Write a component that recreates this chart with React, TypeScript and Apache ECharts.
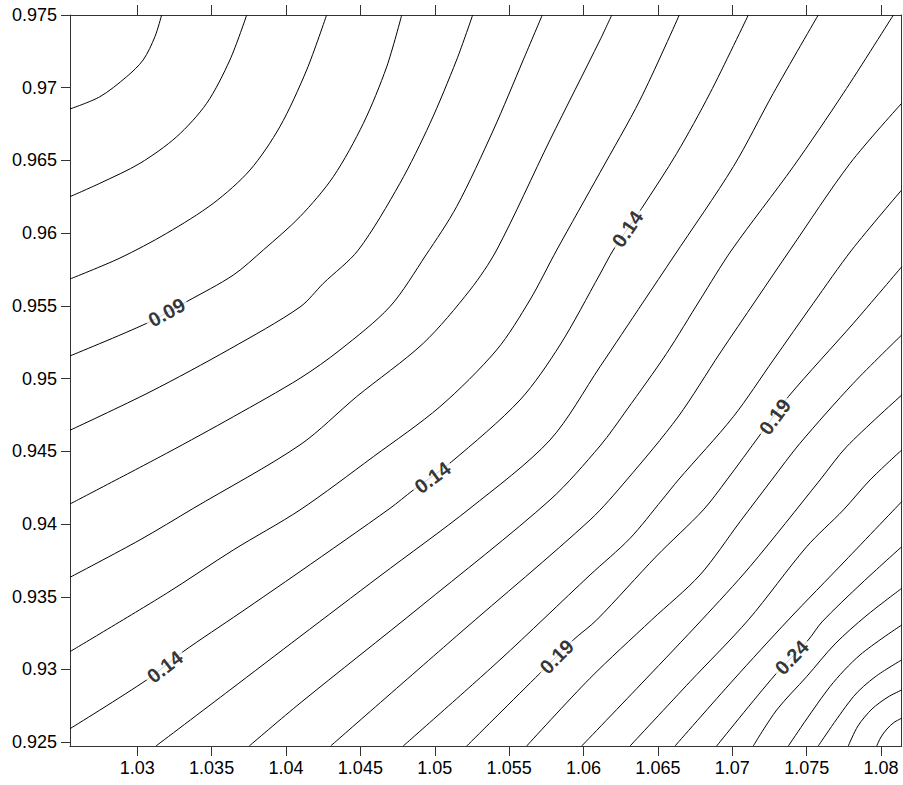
import React, { useEffect, useRef } from "react";
import * as echarts from "echarts";

// axis extents (data units)
const X_MIN = 1.02548;
const X_MAX = 1.08139;
const Y_MIN = 0.92474;
const Y_MAX = 0.975;

const xTicks = [1.03, 1.035, 1.04, 1.045, 1.05, 1.055, 1.06, 1.065, 1.07, 1.075, 1.08];
const yTicks = [0.925, 0.93, 0.935, 0.94, 0.945, 0.95, 0.955, 0.96, 0.965, 0.97, 0.975];

const levels = [0.06, 0.07, 0.08, 0.09, 0.1, 0.11, 0.12, 0.13, 0.14, 0.15, 0.16, 0.17, 0.18, 0.19, 0.2, 0.21, 0.22, 0.23, 0.24, 0.25, 0.26, 0.27, 0.28, 0.29];

const c06 = [[1.02548, 0.96854], [1.02749, 0.96938], [1.02929, 0.97076], [1.0304, 0.97191], [1.03119, 0.97351], [1.03164, 0.975]];
const c07 = [[1.02548, 0.96251], [1.02749, 0.96343], [1.03018, 0.9648], [1.03265, 0.96663], [1.03467, 0.96893], [1.03623, 0.97191], [1.03736, 0.975]];
const c08 = [[1.02548, 0.95685], [1.02884, 0.95829], [1.03198, 0.95999], [1.03511, 0.96205], [1.03758, 0.96434], [1.03959, 0.96732], [1.04139, 0.97122], [1.04273, 0.975]];
const c09 = [[1.02548, 0.95156], [1.03063, 0.9538], [1.03332, 0.95529], [1.03646, 0.95712], [1.03847, 0.95884], [1.04094, 0.96113], [1.04318, 0.96388], [1.0452, 0.96755], [1.04677, 0.97144], [1.04778, 0.975]];
const c10 = [[1.02548, 0.94645], [1.03085, 0.94908], [1.03623, 0.95204], [1.04094, 0.95492], [1.04251, 0.95655], [1.04486, 0.95884], [1.04766, 0.96343], [1.04968, 0.96755], [1.05147, 0.97191], [1.05255, 0.975]];
const c11 = [[1.02548, 0.94138], [1.03198, 0.94487], [1.03646, 0.94738], [1.04094, 0.95002], [1.04363, 0.95197], [1.04699, 0.95495], [1.04941, 0.9585], [1.05147, 0.96182], [1.05394, 0.96709], [1.05595, 0.97191], [1.05723, 0.975]];
const c12 = [[1.02548, 0.93634], [1.03018, 0.93891], [1.03377, 0.94108], [1.04094, 0.94544], [1.04475, 0.94876], [1.04923, 0.95243], [1.05237, 0.95609], [1.05416, 0.95884], [1.05775, 0.96641], [1.06111, 0.97328], [1.0619, 0.975]];
const c13 = [[1.02548, 0.93123], [1.03198, 0.93524], [1.03646, 0.93822], [1.04094, 0.94097], [1.04587, 0.94463], [1.05035, 0.94807], [1.05416, 0.95197], [1.0564, 0.95541], [1.0582, 0.95884], [1.06111, 0.96417], [1.0638, 0.96916], [1.06644, 0.975]];
const c14 = [[1.02548, 0.92593], [1.03063, 0.92928], [1.03309, 0.93123], [1.03691, 0.93389], [1.04094, 0.93673], [1.04699, 0.94108], [1.04856, 0.94234], [1.05114, 0.94429], [1.05573, 0.94853], [1.05842, 0.95231], [1.06111, 0.95719], [1.062, 0.95884], [1.06391, 0.96171], [1.06627, 0.96549], [1.0685, 0.96962], [1.07108, 0.975]];
const c15 = [[1.03126, 0.92474], [1.03623, 0.92859], [1.04094, 0.93226], [1.04632, 0.93643], [1.05237, 0.94108], [1.05775, 0.94578], [1.06111, 0.95082], [1.06402, 0.95527], [1.06604, 0.95836], [1.07007, 0.96457], [1.07276, 0.96962], [1.07578, 0.975]];
const c16 = [[1.03753, 0.92474], [1.04094, 0.92768], [1.04901, 0.9343], [1.05775, 0.94166], [1.06111, 0.94537], [1.0629, 0.94784], [1.06559, 0.95174], [1.06783, 0.95541], [1.06996, 0.95884], [1.0741, 0.96457], [1.07747, 0.96962], [1.08083, 0.975]];
const c17 = [[1.043, 0.92474], [1.0517, 0.93251], [1.06044, 0.94028], [1.0629, 0.94303], [1.06635, 0.94736], [1.06918, 0.95176], [1.0716, 0.95541], [1.07388, 0.95884], [1.07792, 0.9648], [1.08139, 0.96893]];
const c18 = [[1.04788, 0.92474], [1.05438, 0.93066], [1.06044, 0.9365], [1.06313, 0.93902], [1.06528, 0.94166], [1.06637, 0.94303], [1.07007, 0.94738], [1.07276, 0.95128], [1.07545, 0.95518], [1.07803, 0.95884], [1.08139, 0.96297]];
const c19 = [[1.05215, 0.92474], [1.05707, 0.92974], [1.05931, 0.93203], [1.06089, 0.93341], [1.06492, 0.93781], [1.06805, 0.94097], [1.06963, 0.94303], [1.07186, 0.94612], [1.07377, 0.94876], [1.07814, 0.9538], [1.08139, 0.95769]];
const c20 = [[1.05618, 0.92474], [1.06044, 0.9294], [1.06458, 0.93341], [1.06783, 0.9365], [1.07052, 0.94016], [1.07265, 0.94303], [1.07455, 0.94555], [1.07814, 0.94968], [1.08139, 0.953]];
const c21 = [[1.05988, 0.92474], [1.06413, 0.92928], [1.06795, 0.93341], [1.07119, 0.93707], [1.0759, 0.94303], [1.07769, 0.94532], [1.08139, 0.94887]];
const c22 = [[1.06313, 0.92474], [1.06716, 0.92916], [1.07108, 0.93341], [1.075, 0.93844], [1.07747, 0.94097], [1.07926, 0.94303], [1.08139, 0.94509]];
const c23 = [[1.06615, 0.92474], [1.07007, 0.92928], [1.07377, 0.93341], [1.07758, 0.93746], [1.08139, 0.94154]];
const c24 = [[1.06895, 0.92474], [1.07287, 0.92962], [1.07511, 0.93203], [1.07603, 0.93327], [1.07872, 0.93595], [1.08139, 0.93844]];
const c25 = [[1.07141, 0.92474], [1.07299, 0.92722], [1.075, 0.92951], [1.07691, 0.93176], [1.07899, 0.93368], [1.08139, 0.93558]];
const c26 = [[1.07377, 0.92474], [1.07657, 0.92882], [1.07859, 0.931], [1.08139, 0.93306]];
const c27 = [[1.07578, 0.92474], [1.07814, 0.92813], [1.0796, 0.92949], [1.08139, 0.93066]];
const c28 = [[1.0778, 0.92474], [1.07845, 0.92612], [1.0794, 0.92729], [1.08047, 0.92811], [1.08139, 0.92859]];
const c29 = [[1.07971, 0.92474], [1.08, 0.92536], [1.0804, 0.92591], [1.08087, 0.92636], [1.08139, 0.92665]];

const contours = [c06, c07, c08, c09, c10, c11, c12, c13, c14, c15, c16, c17, c18, c19, c20, c21, c22, c23, c24, c25, c26, c27, c28, c29];

// contour labels
const labelText = ["0.09", "0.14", "0.14", "0.14", "0.19", "0.19", "0.24"];
const labelLevel = [0.09, 0.14, 0.14, 0.14, 0.19, 0.19, 0.24];
const labelX = [1.03198, 1.03186, 1.04985, 1.06296, 1.0582, 1.07287, 1.074];
const labelY = [0.95455, 0.93019, 0.9432, 0.96029, 0.93088, 0.94738, 0.93083];

const FONT = "'Liberation Sans', Arial, Helvetica, sans-serif";
const AXIS_COLOR = "#333";

function fmt(v: number): string {
  return String(parseFloat(Number(v).toFixed(4)));
}

export default function App() {
  const ref = useRef<HTMLDivElement>(null);

  useEffect(() => {
    document.body.style.margin = "0";
    const chart = echarts.init(ref.current as HTMLDivElement, null, { renderer: "svg" });

    const lineSeries = contours.map((pts, i) => ({
      type: "line",
      name: String(levels[i]),
      data: pts,
      xAxisIndex: 0,
      yAxisIndex: 0,
      showSymbol: false,
      symbol: "none",
      smooth: 0.3,
      silent: true,
      z: 2,
      lineStyle: { color: "#000", width: 1 },
    }));

    const labelStyle = { fontFamily: FONT, fontSize: 18, color: "#000" };

    chart.setOption({
      animation: false,
      backgroundColor: "#fff",
      grid: { left: 70, right: 1.3, top: 15, bottom: 39, containLabel: false },
      xAxis: [
        {
          type: "value",
          position: "bottom",
          min: X_MIN,
          max: X_MAX,
          axisLine: { show: true, onZero: false, lineStyle: { color: AXIS_COLOR, width: 1 } },
          axisTick: { show: true, length: 10, customValues: xTicks, lineStyle: { color: AXIS_COLOR, width: 1 } },
          axisLabel: { show: true, customValues: xTicks, formatter: fmt, margin: 13, ...labelStyle },
          splitLine: { show: false },
        },
        {
          type: "value",
          position: "top",
          min: X_MIN,
          max: X_MAX,
          axisLine: { show: true, onZero: false, lineStyle: { color: AXIS_COLOR, width: 1 } },
          axisTick: { show: true, length: 10, customValues: xTicks, lineStyle: { color: AXIS_COLOR, width: 1 } },
          axisLabel: { show: false },
          splitLine: { show: false },
        },
      ],
      yAxis: [
        {
          type: "value",
          position: "left",
          min: Y_MIN,
          max: Y_MAX,
          axisLine: { show: true, onZero: false, lineStyle: { color: AXIS_COLOR, width: 1 } },
          axisTick: { show: true, length: 9, customValues: yTicks, lineStyle: { color: AXIS_COLOR, width: 1 } },
          axisLabel: { show: true, customValues: yTicks, formatter: fmt, margin: 13, ...labelStyle },
          splitLine: { show: false },
        },
        {
          type: "value",
          position: "right",
          min: Y_MIN,
          max: Y_MAX,
          axisLine: { show: true, onZero: false, lineStyle: { color: AXIS_COLOR, width: 1 } },
          axisTick: { show: false },
          axisLabel: { show: false },
          splitLine: { show: false },
        },
      ],
      series: lineSeries,
    });

    // rotation of each contour label follows the local direction of its line (in pixels)
    const labelData = labelX.map((x, k) => {
      const pts = contours[levels.indexOf(labelLevel[k])];
      const c = chart.convertToPixel({ seriesIndex: 0 }, [x, labelY[k]]) as number[];
      let best = Infinity;
      let deg = 0;
      for (let i = 0; i < pts.length - 1; i++) {
        const a = chart.convertToPixel({ seriesIndex: 0 }, pts[i]) as number[];
        const b = chart.convertToPixel({ seriesIndex: 0 }, pts[i + 1]) as number[];
        const dx = b[0] - a[0];
        const dy = b[1] - a[1];
        const len2 = dx * dx + dy * dy || 1;
        let t = ((c[0] - a[0]) * dx + (c[1] - a[1]) * dy) / len2;
        t = Math.max(0, Math.min(1, t));
        const px = a[0] + t * dx;
        const py = a[1] + t * dy;
        const d = (px - c[0]) ** 2 + (py - c[1]) ** 2;
        if (d < best) {
          best = d;
          let ang = (Math.atan2(-dy, dx) * 180) / Math.PI;
          if (ang > 90) ang -= 180;
          if (ang < -90) ang += 180;
          deg = ang;
        }
      }
      return { value: [x, labelY[k]], label: { rotate: deg } };
    });

    chart.setOption({
      series: [
        ...lineSeries,
        {
          type: "scatter",
          xAxisIndex: 0,
          yAxisIndex: 0,
          data: labelData,
          symbolSize: 1,
          silent: true,
          z: 5,
          itemStyle: { color: "rgba(0,0,0,0)" },
          label: {
            show: true,
            position: "inside",
            formatter: (p: any) => labelText[p.dataIndex],
            fontFamily: FONT,
            fontSize: 20,
            fontWeight: "bold",
            color: "#000",
            backgroundColor: "#fff",
            padding: [0, 3],
          },
        },
      ],
    });

    return () => chart.dispose();
  }, []);

  return <div ref={ref} style={{ width: 903, height: 785 }} />;
}
